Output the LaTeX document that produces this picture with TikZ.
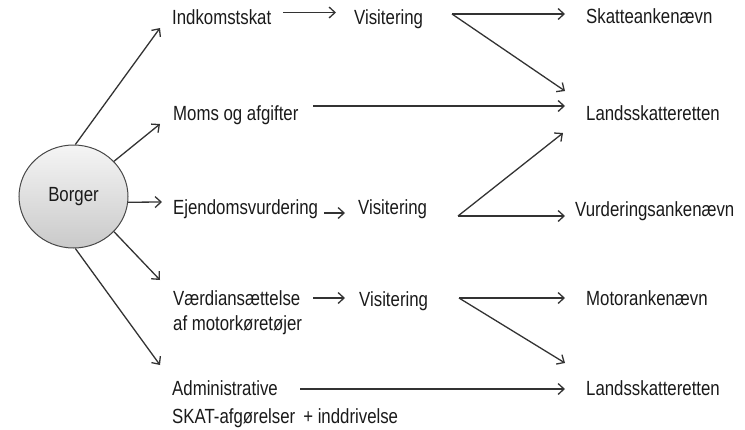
\documentclass[tikz,border=0pt]{standalone}
\usepackage{fontspec}
\setmainfont[FakeStretch=0.82]{Liberation Sans}
\usetikzlibrary{arrows.meta,shapes.geometric}
\definecolor{txt}{HTML}{1A1A1A}
\definecolor{ln}{HTML}{333333}
\tikzset{
  lbl/.style={anchor=base west, inner sep=0pt, text=txt, font=\fontsize{20.5}{25}\selectfont, align=left},
  arr/.style={draw=ln, line width=1.3pt, -{Straight Barb[length=6pt,width=11pt]}},
}
\begin{document}
\begin{tikzpicture}[x=1pt,y=-1pt]
\useasboundingbox (0,0) rectangle (745,429);
% citizen
\node[ellipse, draw=ln!90, line width=1pt, minimum width=109pt, minimum height=103pt, inner sep=0pt,
      top color=gray!8, bottom color=gray!42, text=txt, font=\fontsize{20.5}{25}\selectfont] (borger) at (73.5,196.5) {Borger};
% column 1 (two-line labels are placed by their last baseline)
\node[lbl] (ind) at (172,24) {Indkomstskat};
\node[lbl] (moms) at (173,120) {Moms og afgifter};
\node[lbl] (ejd) at (173,214) {Ejendomsvurdering};
\node[lbl, font=\fontsize{20.5}{24.5}\selectfont] (vaer) at (173,330) {Værdiansættelse\\af motorkøretøjer};
\node[lbl, font=\fontsize{20.5}{27.5}\selectfont] (adm) at (172,423) {Administrative\\SKAT-afgørelser\, + inddrivelse};
% column 2
\node[lbl] (vis1) at (354,24) {Visitering};
\node[lbl] (vis3) at (358,214) {Visitering};
\node[lbl] (vis4) at (359,306) {Visitering};
% column 3
\node[lbl] (skat) at (586,23) {Skatteankenævn};
\node[lbl] (lands1) at (586,120) {Landsskatteretten};
\node[lbl] (vurd) at (575,216) {Vurderingsankenævn};
\node[lbl] (motor) at (586,305) {Motorankenævn};
\node[lbl] (lands5) at (586,395) {Landsskatteretten};
% connector coordinates
\coordinate (bI) at (160,28);
\coordinate (bM) at (160,124);
\coordinate (bE) at (162,202);
\coordinate (bV) at (160,280);
\coordinate (bA) at (160,365);
\coordinate (iS) at (283,12.5); \coordinate (iE) at (336,12.5);
\coordinate (v1) at (452,14);
\coordinate (sk) at (565,14); \coordinate (l1a) at (565,91);
\coordinate (mS) at (313,106); \coordinate (l1b) at (565,106);
\coordinate (eS) at (324,213); \coordinate (eE) at (345,213);
\coordinate (v3) at (458,216);
\coordinate (vu) at (565,216); \coordinate (l1c) at (563,133);
\coordinate (wS) at (313,298); \coordinate (wE) at (345,298);
\coordinate (v4) at (459,298);
\coordinate (mo) at (565,298); \coordinate (l5a) at (565,363);
\coordinate (aS) at (300,389); \coordinate (l5b) at (565,389);
% connectors
\draw[arr] (borger.88) -- (bI);
\draw[arr] (borger.41) -- (bM);
\draw[arr] (borger.-6) -- (bE);
\draw[arr] (borger.-41) -- (bV);
\draw[arr] (borger.-88) -- (bA);
\draw[arr] (iS) -- (iE);
\draw[arr] (v1) -- (sk);
\draw[arr] (v1) -- (l1a);
\draw[arr] (mS) -- (l1b);
\draw[arr] (eS) -- (eE);
\draw[arr] (v3) -- (vu);
\draw[arr] (v3) -- (l1c);
\draw[arr] (wS) -- (wE);
\draw[arr] (v4) -- (mo);
\draw[arr] (v4) -- (l5a);
\draw[arr] (aS) -- (l5b);
\end{tikzpicture}
\end{document}
